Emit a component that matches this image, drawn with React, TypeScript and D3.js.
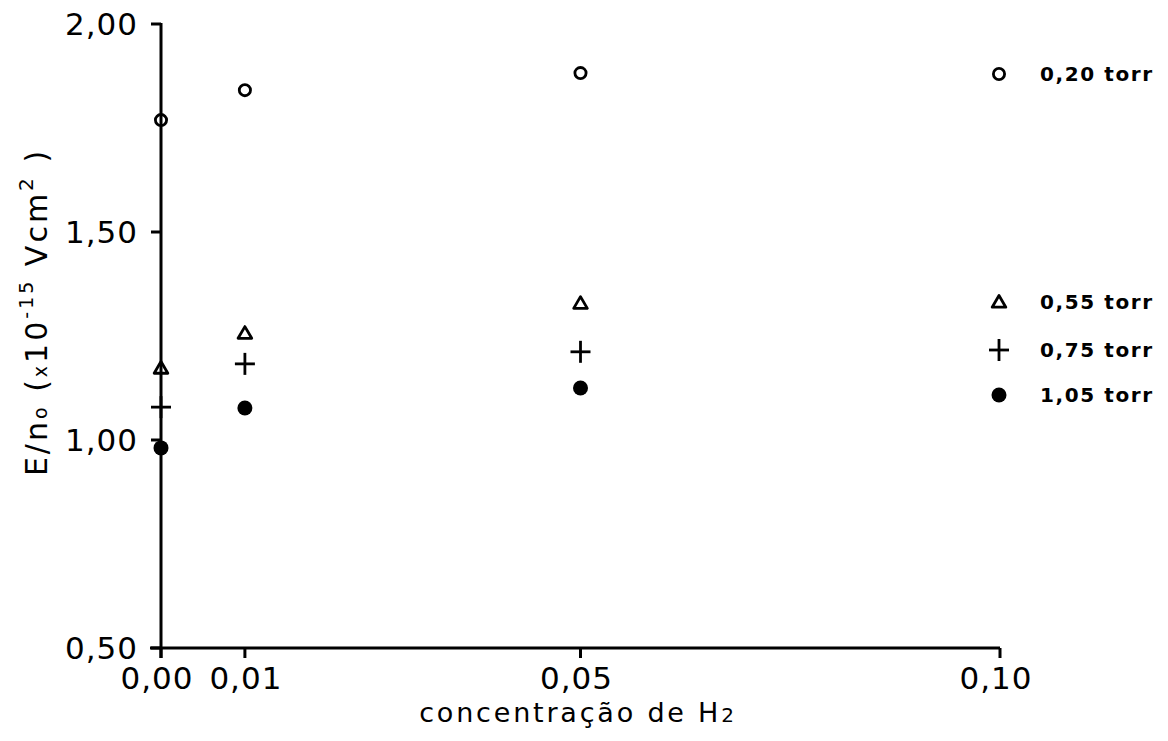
import React from "react";
import * as d3 from "d3";

const concentrations = [0.0, 0.01, 0.05];
const xTickValues = [0.0, 0.01, 0.05, 0.1];
const xTickLabels = ["0,00", "0,01", "0,05", "0,10"];
const yTickValues = [0.5, 1.0, 1.5, 2.0];
const yTickLabels = ["0,50", "1,00", "1,50", "2,00"];

const seriesNames = ["0,20 torr", "0,55 torr", "0,75 torr", "1,05 torr"];
const seriesSymbols = ["circle", "triangle", "plus", "dot"];
const values020 = [1.769, 1.841, 1.882];
const values055 = [1.173, 1.257, 1.329];
const values075 = [1.079, 1.183, 1.212];
const values105 = [0.981, 1.077, 1.125];
const seriesValues = [values020, values055, values075, values105];

const W = 1168;
const H = 741;
const FONT = "'DejaVu Sans', sans-serif";

function Marker({ type, x, y }: { type: string; x: number; y: number }) {
  const sw = 2.8;
  if (type === "circle") {
    return <circle cx={x} cy={y} r={5.6} fill="none" stroke="#000" strokeWidth={sw} />;
  }
  if (type === "triangle") {
    const s = 6.5;
    const p = `M${x},${y - s} L${x + s * 1.05},${y + s * 0.8} L${x - s * 1.05},${y + s * 0.8} Z`;
    return <path d={p} fill="none" stroke="#000" strokeWidth={sw} strokeLinejoin="round" />;
  }
  if (type === "plus") {
    return (
      <g stroke="#000" strokeWidth={sw}>
        <line x1={x - 10} x2={x + 10} y1={y} y2={y} />
        <line x1={x} x2={x} y1={y - 11} y2={y + 11} />
      </g>
    );
  }
  return <circle cx={x} cy={y} r={7.5} fill="#000" />;
}

export default function App() {
  const x = d3.scaleLinear().domain([0, 0.1]).range([161, 1000]);
  const y = d3.scaleLinear().domain([0.5, 2.0]).range([648, 24]);
  const legendX = 999;
  const legendTextX = 1040;
  const legendYs = [74, 302, 350, 395];

  return (
    <svg width={W} height={H} style={{ position: "absolute", left: 0, top: 0, background: "#fff" }}>
      <rect x={0} y={0} width={W} height={H} fill="#fff" />
      {/* axes */}
      <g stroke="#000" strokeWidth={3} fill="none">
        <line x1={x(0)} x2={x(0)} y1={y(2.0) - 1} y2={y(0.5) + 10} />
        <line x1={x(0) - 11} x2={x(0.1)} y1={y(0.5)} y2={y(0.5)} />
        {yTickValues.map((v) => (
          <line key={"yt" + v} x1={x(0) - 10} x2={x(0)} y1={y(v)} y2={y(v)} />
        ))}
        {xTickValues.map((v) => (
          <line key={"xt" + v} x1={x(v)} x2={x(v)} y1={y(0.5)} y2={y(0.5) + 10} />
        ))}
      </g>
      {/* tick labels */}
      <g fontFamily={FONT} fontSize={31} fill="#000" letterSpacing={1}>
        {yTickValues.map((v, i) => (
          <text key={"yl" + v} x={138} y={y(v)} dy="0.36em" textAnchor="end">
            {yTickLabels[i]}
          </text>
        ))}
        {xTickValues.map((v, i) => (
          <text key={"xl" + v} x={x(v) - 4 + (i === 1 ? 5 : 0)} y={689} textAnchor="middle">
            {xTickLabels[i]}
          </text>
        ))}
      </g>
      {/* x axis title */}
      <text x={578} y={722} textAnchor="middle" fontFamily={FONT} fontSize={27} letterSpacing={2.8} fill="#000">
        concentração de H<tspan fontSize={20}>2</tspan>
      </text>
      {/* y axis title */}
      <text
        transform="translate(47,312) rotate(-90)"
        textAnchor="middle"
        fontFamily={FONT}
        fontSize={30}
        letterSpacing={3}
        fill="#000"
      >
        E/n<tspan fontSize={19}>o</tspan> (<tspan fontSize={19}>x</tspan>10
        <tspan fontSize={19} dy={-14}>-15</tspan>
        <tspan dy={14}> Vcm</tspan>
        <tspan fontSize={20} dy={-14}>2</tspan>
        <tspan dy={14}> )</tspan>
      </text>
      {/* data points */}
      {seriesValues.map((vals, si) =>
        vals.map((v, i) => (
          <Marker key={`p${si}-${i}`} type={seriesSymbols[si]} x={x(concentrations[i])} y={y(v)} />
        ))
      )}
      {/* legend */}
      {seriesNames.map((name, si) => (
        <g key={"lg" + si}>
          <Marker type={seriesSymbols[si]} x={legendX} y={legendYs[si]} />
          <text
            x={legendTextX}
            y={legendYs[si]}
            dy="0.36em"
            fontFamily={FONT}
            fontSize={20}
            fontWeight="bold"
            letterSpacing={1.6}
            fill="#000"
          >
            {name}
          </text>
        </g>
      ))}
    </svg>
  );
}
